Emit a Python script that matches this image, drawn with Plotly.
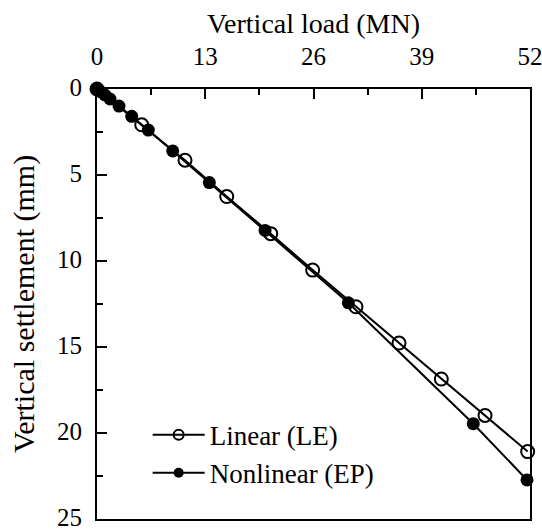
import plotly.graph_objects as go

# Linear (LE) - open circles
le_load = [0, 5.37, 10.57, 15.58, 20.86, 25.9, 31.1, 36.27, 41.35, 46.6, 51.72]
le_settle = [0, 2.08, 4.14, 6.25, 8.41, 10.53, 12.66, 14.77, 16.86, 18.98, 21.08]

# Nonlinear (EP) - filled circles
ep_load = [0, 0.48, 0.96, 1.56, 2.64, 4.17, 6.16, 9.09, 13.49, 20.18, 30.18, 45.19, 51.64]
ep_settle = [0, 0.17, 0.35, 0.58, 0.99, 1.59, 2.39, 3.60, 5.44, 8.22, 12.43, 19.46, 22.73]

x_ticks = [0, 13, 26, 39, 52]
y_ticks = [0, 5, 10, 15, 20, 25]

FONT = "'Liberation Serif', 'Times New Roman', Times, 'DejaVu Serif', serif"

fig = go.Figure()
fig.add_trace(go.Scatter(
    x=le_load, y=le_settle, mode="lines+markers", name="Linear (LE)",
    line=dict(color="black", width=2),
    marker=dict(symbol="circle-open", size=13, color="black", line=dict(width=2)),
    cliponaxis=False, showlegend=False))
fig.add_trace(go.Scatter(
    x=ep_load, y=ep_settle, mode="lines+markers", name="Nonlinear (EP)",
    line=dict(color="black", width=2),
    marker=dict(symbol="circle", size=13, color="black"),
    cliponaxis=False, showlegend=False))
# legend entries (smaller markers as in the reference)
fig.add_trace(go.Scatter(
    x=[None], y=[None], mode="lines+markers", name="Linear (LE)",
    line=dict(color="black", width=2),
    marker=dict(symbol="circle-open", size=10, color="black", line=dict(width=2))))
fig.add_trace(go.Scatter(
    x=[None], y=[None], mode="lines+markers", name="Nonlinear (EP)",
    line=dict(color="black", width=2),
    marker=dict(symbol="circle", size=10, color="black")))

fig.update_layout(
    template="none",
    width=542, height=531,
    margin=dict(l=97, r=12, t=89, b=12, autoexpand=False),
    paper_bgcolor="white", plot_bgcolor="white",
    font=dict(family=FONT, size=26, color="black"),
    showlegend=True,
    legend=dict(x=0.117, y=0.252, xanchor="left", yanchor="top",
                bgcolor="rgba(0,0,0,0)", font=dict(family=FONT, size=27),
                tracegroupgap=0, itemwidth=52),
)
fig.update_xaxes(
    side="top", range=[0, 52], tickvals=x_ticks, automargin=False,
    ticks="inside", ticklen=10, tickwidth=2, tickcolor="black",
    minor=dict(dtick=6.5, tick0=0, ticks="inside", ticklen=6, tickwidth=2, tickcolor="black", showgrid=False),
    showline=True, linewidth=2, linecolor="black", mirror=True,
    showgrid=False, zeroline=False, ticklabeloverflow="allow",
    title=dict(text="Vertical load (MN)", font=dict(family=FONT, size=28), standoff=1),
    tickfont=dict(family=FONT, size=25), ticklabelstandoff=12,
)
fig.update_yaxes(
    range=[25, 0], tickvals=y_ticks, automargin=False,
    ticks="inside", ticklen=10, tickwidth=2, tickcolor="black",
    minor=dict(dtick=2.5, tick0=0, ticks="inside", ticklen=6, tickwidth=2, tickcolor="black", showgrid=False),
    showline=True, linewidth=2, linecolor="black", mirror=True,
    showgrid=False, zeroline=False, ticklabeloverflow="allow",
    title=dict(text="Vertical settlement (mm)", font=dict(family=FONT, size=30), standoff=14),
    tickfont=dict(family=FONT, size=25), ticklabelstandoff=8, ticklabelshift=2,
)

fig.write_html("out.html")
